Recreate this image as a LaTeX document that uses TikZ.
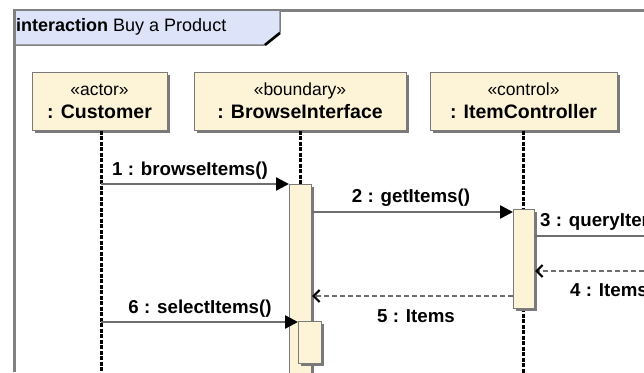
\documentclass[tikz,border=0pt]{standalone}
\usepackage{fontspec}
\setmainfont{Liberation Sans}
\usetikzlibrary{arrows.meta,shadows}
\definecolor{cream}{HTML}{FDF4D8}
\definecolor{lav}{HTML}{DDE3F8}
\definecolor{framegray}{HTML}{808080}
\definecolor{linegray}{HTML}{6E6E6E}
\definecolor{shadowgray}{HTML}{7A7A7A}
\begin{document}
\begin{tikzpicture}[x=1pt,y=-1pt,
  lifebox/.style={draw=shadowgray,line width=1pt,fill=cream,
    drop shadow={shadow xshift=3pt,shadow yshift=-3pt,fill=shadowgray,opacity=1},
    align=center,inner sep=0pt,font=\fontsize{17.5}{23}\selectfont},
  actbox/.style={draw=shadowgray,line width=1pt,fill=cream,anchor=north west,inner sep=0pt,
    drop shadow={shadow xshift=2pt,shadow yshift=-2pt,fill=shadowgray,opacity=1}},
  lifeline/.style={black,line width=3pt,dash pattern=on 4pt off 1.5pt},
  msg/.style={linegray,line width=2.5pt,-{Triangle[length=13pt,width=13pt,fill=black,black]}},
  ret/.style={linegray,line width=2.5pt,dash pattern=on 5pt off 3pt,
    -{Straight Barb[length=6pt,width=12pt,line width=2.2pt,black]}},
  lbl/.style={font=\fontsize{18.7}{20}\selectfont\bfseries,inner sep=0pt}]
\useasboundingbox (0,0) rectangle (644,372);
\fill[white] (0,0) rectangle (644,372);
% frame
\draw[framegray,line width=3pt] (14,372) -- (14,10) -- (650,10);
\draw[framegray,line width=1.5pt,fill=lav] (14,10) -- (280,10) -- (280,32) -- (264,45) -- (14,45) -- cycle;
\draw[black,line width=2.5pt] (280,33) -- (265,45);
\draw[framegray,line width=3pt] (14,10) -- (14,46);
\node[anchor=west,inner sep=0pt,font=\fontsize{18}{20}\selectfont] (title) at (16,27) {\textbf{interaction} Buy a Product};
% lifeline heads
\node[lifebox,minimum width=135,minimum height=58] (cust) at (99.5,101) {«actor»\\\textbf{\fontsize{19.5}{23}\selectfont : Customer}};
\node[lifebox,minimum width=212,minimum height=58] (brow) at (300,101) {«boundary»\\\textbf{\fontsize{19.5}{23}\selectfont : BrowseInterface}};
\node[lifebox,minimum width=187,minimum height=58] (ictl) at (523.5,101) {«control»\\\textbf{\fontsize{19.5}{23}\selectfont : ItemController}};
% bottom ends
\coordinate (custend) at (101,380);
\coordinate (browend) at (300,380);
\coordinate (ictlend) at (523,380);
% lifelines
\draw[lifeline] (cust.south -| custend) -- (custend);
\draw[lifeline] (cust.south -| browend) -- (300,184);
\draw[lifeline] (cust.south -| ictlend) -- (523,209);
\draw[lifeline] (523,308) -- (ictlend);
% activations
\node[actbox,minimum width=22,minimum height=200] (a1) at (289,184) {};
\node[actbox,minimum width=23,minimum height=42] (a2) at (298,321) {};
\node[actbox,minimum width=21,minimum height=99] (a3) at (513,209) {};
% message endpoints
\coordinate (m1s) at (101,184);
\coordinate (m6s) at (101,322);
\coordinate (m3e) at (660,236);
\coordinate (m4s) at (660,271);
% messages
\draw[msg] (m1s) -- (m1s -| a1.west);
\draw[msg] (a1.east |- 0,212) -- (a3.west |- 0,212);
\draw[linegray,line width=2.5pt] (a3.east |- m3e) -- (m3e);
\draw[ret] (m4s) -- (m4s -| a3.east);
\draw[ret] (a3.west |- 0,296) -- (a1.east |- 0,296);
\draw[msg] (m6s) -- (m6s -| a2.west);
% labels
\node[lbl] (l1) at (190,171) {1 : browseItems()};
\node[lbl] (l2) at (411,198) {2 : getItems()};
\node[lbl,anchor=west] (l3) at (540,222) {3 : queryItems()};
\node[lbl,anchor=west] (l4) at (570,290) {4 : Items};
\node[lbl] (l5) at (416,316) {5 : Items};
\node[lbl] (l6) at (200,309) {6 : selectItems()};
\end{tikzpicture}
\end{document}
